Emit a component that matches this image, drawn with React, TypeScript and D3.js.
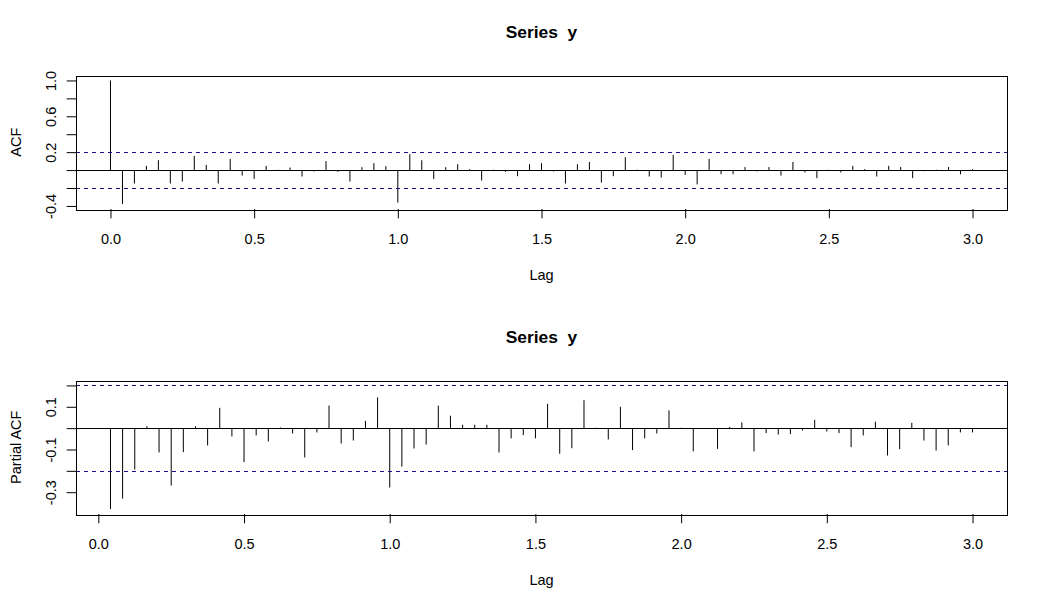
import { useEffect, useRef } from 'react';
import * as d3 from 'd3';

// series frequency (lags are k / FREQ) and the 95% band
const FREQ = 24;
const CI = 0.2;

// ACF, lags 0..72
const acfValues = [
	1.0, -0.379, -0.15, 0.047, 0.11, -0.15, -0.128, 0.159, 0.058, -0.15, 0.125, -0.061, -0.098,
	0.047, 0.004, 0.028, -0.072, -0.015, 0.1, -0.02, -0.128, 0.032, 0.077, 0.044, -0.363,
	0.178, 0.11, -0.1, 0.032, 0.066, 0.01, -0.117, 0.003, -0.02, -0.068, 0.066, 0.077,
	-0.015, -0.15, 0.066, 0.09, -0.14, -0.068, 0.144, 0.004, -0.072, -0.083, 0.17, -0.054,
	-0.16, 0.125, -0.047, -0.047, 0.034, -0.015, 0.034, -0.061, 0.09, -0.026, -0.09, 0.003,
	-0.026, 0.047, 0.01, -0.072, 0.047, 0.034, -0.09, -0.012, 0.004, 0.034, -0.047, 0.01
];

// PACF, lags 1..72
const pacfValues = [
	-0.379, -0.33, -0.194, 0.009, -0.114, -0.269, -0.1125, 0.009, -0.081, 0.095, -0.039, -0.159,
	-0.034, -0.0625, 0.003, -0.025, -0.1375, -0.02, 0.106, -0.072, -0.058, 0.034, 0.144, -0.278,
	-0.18, -0.095, -0.077, 0.105, 0.058, 0.016, 0.016, 0.016, -0.114, -0.048, -0.033, -0.048,
	0.114, -0.12, -0.094, 0.131, 0.002, -0.053, 0.1, -0.103, -0.048, -0.025, 0.083, 0.002,
	-0.109, -0.002, -0.097, 0.006, 0.027, -0.109, -0.023, -0.03, -0.028, -0.011, 0.039, -0.016,
	-0.023, -0.089, -0.034, 0.03, -0.128, -0.098, 0.025, -0.058, -0.105, -0.081, -0.02, -0.02
];

const xTickLabels = ['0.0', '0.5', '1.0', '1.5', '2.0', '2.5', '3.0'];
const acfYTicks = ['-0.4', '-0.2', '0.0', '0.2', '0.4', '0.6', '0.8', '1.0'];
const acfYLabels = ['-0.4', '0.2', '0.6', '1.0'];
const pacfYTicks = ['-0.3', '-0.2', '-0.1', '0.0', '0.1', '0.2'];
const pacfYLabels = ['-0.3', '-0.1', '0.1'];

const title = 'Series  y';
const W = 1047;
const H = 609;
const FONT = "'Liberation Sans', Arial, sans-serif";

interface IPanel {
	offset: number;
	lags: number[];
	values: number[];
	yTicks: string[];
	yLabels: string[];
	yTitle: string;
}

// snap a horizontal line to a pixel row so it stays crisp
const snap = (v: number) => Math.round(v) + 0.5;

function drawPanel(svg: d3.Selection<SVGSVGElement, unknown, null, undefined>, p: IPanel) {
	const box = { left: 76, right: 1007, top: 75.5, bottom: 209 };
	const pad = (lo: number, hi: number): [number, number] => {
		const r = hi - lo;
		return [lo - 0.04 * r, hi + 0.04 * r];
	};

	const g = svg.append('g').attr('transform', `translate(0, ${p.offset})`);

	const x = d3
		.scaleLinear()
		.domain(pad(d3.min(p.lags) as number, d3.max(p.lags) as number))
		.range([box.left, box.right]);
	const y = d3
		.scaleLinear()
		.domain(pad(Math.min(d3.min(p.values) as number, -CI), Math.max(d3.max(p.values) as number, CI)))
		.range([box.bottom, box.top]);

	// spikes
	g.selectAll('line.spike')
		.data(p.values)
		.join('line')
		.attr('class', 'spike')
		.attr('x1', (_, i) => x(p.lags[i]))
		.attr('x2', (_, i) => x(p.lags[i]))
		.attr('y1', snap(y(0)))
		.attr('y2', (d) => y(d))
		.attr('stroke', '#000')
		.attr('stroke-width', 1);

	// zero line
	g.append('line')
		.attr('x1', box.left)
		.attr('x2', box.right)
		.attr('y1', snap(y(0)))
		.attr('y2', snap(y(0)))
		.attr('stroke', '#000');

	// confidence band
	g.selectAll('line.ci')
		.data([CI, -CI])
		.join('line')
		.attr('class', 'ci')
		.attr('x1', box.left)
		.attr('x2', box.right)
		.attr('y1', (d) => snap(y(d)))
		.attr('y2', (d) => snap(y(d)))
		.attr('stroke', '#141482')
		.attr('stroke-dasharray', '4,4');

	// frame
	g.append('rect')
		.attr('x', box.left + 0.5)
		.attr('y', Math.round(box.top) + 0.5)
		.attr('width', box.right - box.left)
		.attr('height', Math.round(box.bottom - box.top))
		.attr('fill', 'none')
		.attr('stroke', '#000');

	// x axis
	const xAxis = g
		.append('g')
		.attr('transform', `translate(0, ${box.bottom})`)
		.call(
			d3
				.axisBottom(x)
				.tickValues(xTickLabels.map(Number))
				.tickSize(9.3)
				.tickFormat((d) => (d as number).toFixed(1))
		);
	xAxis.select('.domain').remove();
	xAxis.selectAll('line').attr('stroke', '#000');
	xAxis
		.selectAll('text')
		.attr('y', 34.6)
		.attr('dy', null)
		.attr('fill', '#000')
		.style('font-family', FONT)
		.style('font-size', '14.5px');

	// y axis
	const yAxis = g
		.append('g')
		.attr('transform', `translate(${box.left}, 0)`)
		.call(
			d3
				.axisLeft(y)
				.tickValues(p.yTicks.map(Number))
				.tickSize(9.3)
				.tickFormat((d) => {
					const s = (d as number).toFixed(1);
					return p.yLabels.includes(s) ? s : '';
				})
		);
	yAxis.select('.domain').remove();
	yAxis.selectAll('line').attr('stroke', '#000');
	yAxis
		.selectAll('text')
		.attr('x', 0)
		.attr('y', 0)
		.attr('dy', null)
		.attr('text-anchor', 'middle')
		.attr('transform', 'translate(-20.5, 0) rotate(-90)')
		.attr('fill', '#000')
		.style('font-family', FONT)
		.style('font-size', '14.5px');

	// titles
	g.append('text')
		.attr('x', (box.left + box.right) / 2)
		.attr('y', 38.3)
		.attr('text-anchor', 'middle')
		.style('font-family', FONT)
		.style('font-weight', 'bold')
		.style('font-size', '17.4px')
		.style('white-space', 'pre')
		.text(title);

	g.append('text')
		.attr('x', (box.left + box.right) / 2)
		.attr('y', box.bottom + 70.5)
		.attr('text-anchor', 'middle')
		.style('font-family', FONT)
		.style('font-size', '14.5px')
		.text('Lag');

	g.append('text')
		.attr('transform', `translate(21, ${(box.top + box.bottom) / 2}) rotate(-90)`)
		.attr('text-anchor', 'middle')
		.style('font-family', FONT)
		.style('font-size', '14.5px')
		.text(p.yTitle);
}

function App() {
	const ref = useRef<SVGSVGElement | null>(null);

	useEffect(() => {
		document.body.style.margin = '0';
		if (!ref.current) return;
		const svg = d3.select(ref.current);
		svg.selectAll('*').remove();

		svg.append('rect').attr('width', W).attr('height', H).attr('fill', '#fff');

		drawPanel(svg, {
			offset: 0,
			lags: acfValues.map((_, i) => i / FREQ),
			values: acfValues,
			yTicks: acfYTicks,
			yLabels: acfYLabels,
			yTitle: 'ACF'
		});
		drawPanel(svg, {
			offset: 305,
			lags: pacfValues.map((_, i) => (i + 1) / FREQ),
			values: pacfValues,
			yTicks: pacfYTicks,
			yLabels: pacfYLabels,
			yTitle: 'Partial ACF'
		});
	}, []);

	return <svg ref={ref} width={W} height={H} style={{ display: 'block' }} />;
}

export default App;
